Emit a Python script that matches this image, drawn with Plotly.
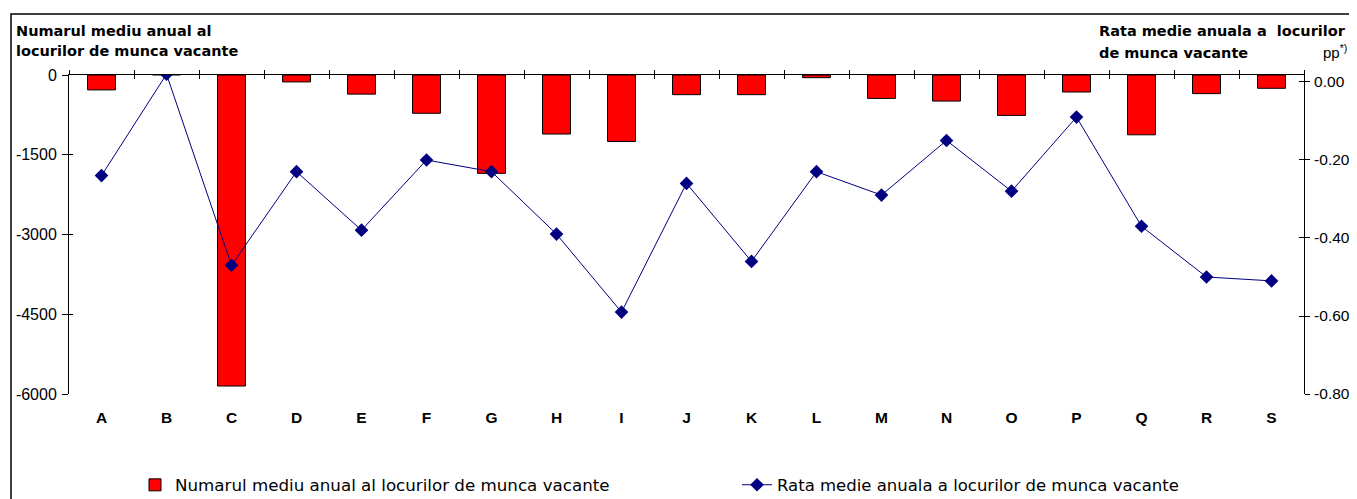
import plotly.graph_objects as go

categories = ["A", "B", "C", "D", "E", "F", "G", "H", "I", "J",
              "K", "L", "M", "N", "O", "P", "Q", "R", "S"]
vacancies = [-280, 15, -5850, -130, -360, -720, -1850, -1110, -1250, -370,
             -370, -50, -440, -490, -760, -320, -1125, -350, -250]
rate_pp = [-0.24, 0.02, -0.47, -0.23, -0.38, -0.20, -0.23, -0.39, -0.59, -0.26,
           -0.46, -0.23, -0.29, -0.15, -0.28, -0.09, -0.37, -0.50, -0.51]
left_ticks = [0, -1500, -3000, -4500, -6000]
right_ticks = [0.0, -0.2, -0.4, -0.6, -0.8]

bar_name = "Numarul mediu anual al locurilor de munca vacante"
line_name = "Rata medie anuala a locurilor de munca vacante"

ARIAL = "Liberation Sans, Arial, sans-serif"
WIDE = "DejaVu Sans, Verdana, sans-serif"

# page is offset by the 8px body margin; work in figure pixels
OFF = 8
W, H = 1357 - OFF, 499 - OFF
PL, PR, PT, PB = 69 - OFF, 1304 - OFF, 67, 394 - OFF  # plot box in figure px
L, R, T, B = PL, W - PR, PT, H - PB
pw, ph = PR - PL, PB - PT

def px_x(p):
    """page pixel -> paper x"""
    return (p - OFF - PL) / pw

def px_y(p):
    """page pixel -> paper y"""
    return (PB - (p - OFF)) / ph

cat_range = [-0.5, len(categories) - 0.5]

fig = go.Figure()
fig.add_trace(go.Bar(
    x=categories, y=vacancies, name=bar_name,
    marker=dict(color="#FF0000", line=dict(color="#000000", width=1)),
    xaxis="x", yaxis="y", legend="legend",
))
fig.add_trace(go.Scatter(
    x=categories, y=rate_pp, name=line_name, mode="lines+markers",
    line=dict(color="#000080", width=1),
    marker=dict(symbol="diamond", size=10.5, color="#000080"),
    xaxis="x2", yaxis="y2", legend="legend2",
))
# helper (invisible) traces so the inside-tick axes get drawn
fig.add_trace(go.Scatter(
    x=categories, y=[None] * len(categories), showlegend=False,
    hoverinfo="skip", xaxis="x3", yaxis="y3",
))
fig.add_trace(go.Scatter(
    x=categories, y=[None] * len(categories), showlegend=False,
    hoverinfo="skip", xaxis="x3", yaxis="y4",
))

common_x = dict(type="category", categoryorder="array", categoryarray=categories,
                range=cat_range, showgrid=False, zeroline=False)

fig.update_layout(
    width=W, height=H,
    margin=dict(l=L, r=R, t=T, b=B, autoexpand=False),
    paper_bgcolor="white", plot_bgcolor="white",
    font=dict(family=ARIAL, size=16, color="black"),
    bargap=0.57,
    showlegend=True,
    xaxis=dict(
        **common_x, side="top", showline=True, linecolor="black", linewidth=1,
        ticks="outside", ticklen=4, tickcolor="black", tickson="boundaries",
        showticklabels=False,
    ),
    xaxis2=dict(
        **common_x, overlaying="x", side="bottom", showline=False, ticks="",
        tickfont=dict(family=ARIAL, size=15.5, color="black", weight="bold"),
        ticklabelstandoff=12,
    ),
    xaxis3=dict(
        **common_x, overlaying="x", side="top", showline=False,
        ticks="inside", ticklen=4, tickcolor="black", tickson="boundaries",
        showticklabels=False,
    ),
    yaxis=dict(
        range=[-6000, 0], tickvals=left_ticks, ticktext=[str(v) for v in left_ticks],
        showline=True, linecolor="black", linewidth=1,
        ticks="outside", ticklen=6, tickcolor="black", ticklabelstandoff=2,
        showgrid=False, zeroline=False,
        tickfont=dict(family=ARIAL, size=16, color="black"),
    ),
    yaxis2=dict(
        range=[-0.8, 0.0179], overlaying="y", side="right", anchor="x",
        tickvals=right_ticks, ticktext=[f"{v:.2f}" for v in right_ticks],
        showline=True, linecolor="black", linewidth=1,
        ticks="outside", ticklen=5, tickcolor="black", ticklabelstandoff=1,
        showgrid=False, zeroline=False,
        tickfont=dict(family=ARIAL, size=15.5, color="black"),
    ),
    yaxis3=dict(
        range=[-6000, 0], tickvals=left_ticks, overlaying="y", side="left",
        anchor="x3", showline=False, ticks="inside", ticklen=4, tickcolor="black",
        showticklabels=False, showgrid=False, zeroline=False,
    ),
    yaxis4=dict(
        range=[-0.8, 0.0179], tickvals=right_ticks, overlaying="y", side="right",
        anchor="x3", showline=False, ticks="inside", ticklen=5, tickcolor="black",
        showticklabels=False, showgrid=False, zeroline=False,
    ),
    legend=dict(
        orientation="h", x=px_x(135), y=px_y(485), xanchor="left", yanchor="middle",
        font=dict(family=WIDE, size=16.7, color="black"), bgcolor="rgba(0,0,0,0)",
    ),
    legend2=dict(
        orientation="h", x=px_x(737), y=px_y(485), xanchor="left", yanchor="middle",
        font=dict(family=WIDE, size=16.5, color="black"), bgcolor="rgba(0,0,0,0)",
    ),
)

# outer chart border
fig.add_shape(type="rect", xref="paper", yref="paper",
              x0=px_x(11), x1=px_x(1356), y0=px_y(540), y1=px_y(14),
              line=dict(color="black", width=1.5), fillcolor="rgba(0,0,0,0)",
              layer="below")

title_font = dict(family=WIDE, size=14.5, color="black", weight="bold")
for txt, xp, yp, anchor in [
    ("Numarul mediu anual al", 14, 31, "left"),
    ("locurilor de munca vacante", 14, 51, "left"),
    ("Rata medie anuala a  locurilor", 1348, 31, "right"),
    ("de munca vacante", 1097, 53, "left"),
]:
    fig.add_annotation(text=txt, xref="paper", yref="paper", x=px_x(xp), y=px_y(yp),
                       xanchor=anchor, yanchor="middle", showarrow=False,
                       font=title_font)
fig.add_annotation(
    text="pp<sup>*)</sup>",
    xref="paper", yref="paper", x=px_x(1349), y=px_y(51),
    xanchor="right", yanchor="middle", showarrow=False,
    font=dict(family=ARIAL, size=15, color="black"),
)

fig.write_html("out.html")
